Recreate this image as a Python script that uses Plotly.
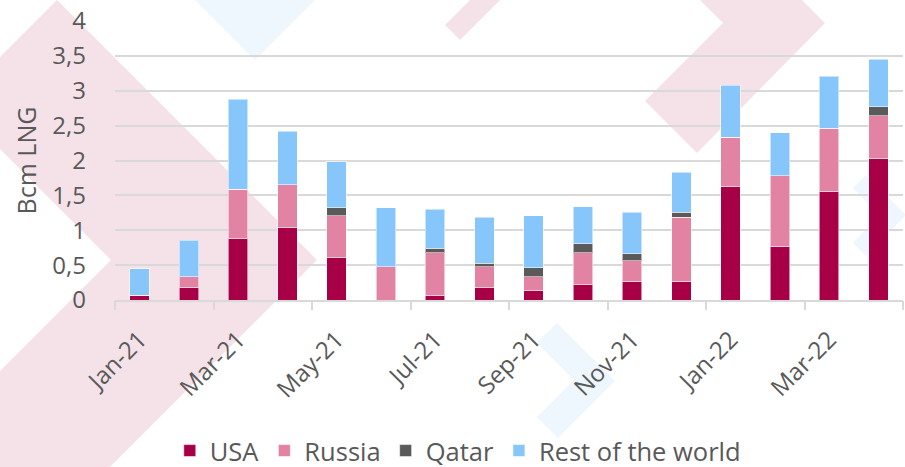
import plotly.graph_objects as go

# ---- data ----
months = ["Jan-21", "Feb-21", "Mar-21", "Apr-21", "May-21", "Jun-21", "Jul-21", "Aug-21",
          "Sep-21", "Oct-21", "Nov-21", "Dec-21", "Jan-22", "Feb-22", "Mar-22", "Apr-22"]
usa = [0.07, 0.18, 0.88, 1.04, 0.61, 0.00, 0.07, 0.18, 0.14, 0.22, 0.27, 0.27, 1.63, 0.77, 1.56, 2.03]
russia = [0.00, 0.15, 0.71, 0.61, 0.60, 0.48, 0.61, 0.30, 0.19, 0.46, 0.29, 0.92, 0.70, 1.01, 0.90, 0.61]
qatar = [0.00, 0.00, 0.00, 0.00, 0.11, 0.00, 0.06, 0.05, 0.13, 0.13, 0.10, 0.07, 0.00, 0.00, 0.00, 0.13]
rest = [0.38, 0.53, 1.29, 0.77, 0.66, 0.84, 0.56, 0.66, 0.75, 0.53, 0.60, 0.57, 0.75, 0.62, 0.75, 0.68]
tick_labels = months[::2]

series = [("USA", usa, "#A80046"), ("Russia", russia, "#E283A4"),
          ("Qatar", qatar, "#5A5A5A"), ("Rest of the world", rest, "#87C6FA")]

FONT = "Open Sans"
TXT = "#595959"
W, H = 905, 467
ML, MR, MT, MB = 115, 2, 21, 167
PW, PH = W - ML - MR, H - MT - MB

fig = go.Figure()
for name, vals, col in series:
    fig.add_trace(go.Bar(x=months, y=vals, name=name, marker_color=col,
                         marker_line=dict(width=1, color="rgba(255,255,255,0.55)")))

# empty helper trace so the boundary-tick axis (x2) gets drawn
fig.add_trace(go.Scatter(x=[], y=[], xaxis="x2", yaxis="y", showlegend=False,
                         hoverinfo="skip"))


# ---- decorative background shapes (page pixels -> paper coords) ----
def poly(pts):
    s = ""
    for i, (px, py) in enumerate(pts):
        x = (px - ML) / PW
        y = (H - MB - py) / PH
        s += ("M" if i == 0 else "L") + f"{x:.4f},{y:.4f} "
    return s + "Z"

PINK = "#F4E2E8"
BLUE = "#EEF6FE"
decor = [
    ([(-46, 103), (57, 0), (317, 260), (-110, 687), (-110, 481), (111, 260)], PINK),
    ([(185, -10), (255, 60), (325, -10)], BLUE),
    ([(445, 25), (460, 40), (525, -25), (510, -40)], PINK),
    ([(658, -42), (760, -42), (825, 23), (697, 153), (645, 101), (723, 23)], PINK),
    ([(537, 343), (557, 323), (615, 381), (558, 438), (537, 417), (574, 380)], BLUE),
    ([(853, 188), (866, 175), (906, 215), (866, 256), (853, 243), (880, 215)], BLUE),
]
shapes = [dict(type="path", xref="paper", yref="paper", path=poly(p), fillcolor=c,
               line=dict(width=0), layer="below") for p, c in decor]

# tick marks between every pair of months (category boundaries)
n = len(months)
boundary_ticks = [k - 0.5 for k in range(0, n + 1, 2)]

fig.update_layout(
    width=W, height=H,
    barmode="stack", bargap=0.6,
    separators=", ",
    paper_bgcolor="white", plot_bgcolor="rgba(0,0,0,0)",
    margin=dict(l=ML, r=MR, t=MT, b=MB, autoexpand=False),
    font=dict(family=FONT, color=TXT, size=24),
    shapes=shapes,
    showlegend=True,
    legend=dict(orientation="h", x=0.435, xanchor="center", y=-(451 - (H - MB)) / PH,
                yanchor="middle", font=dict(size=25.5, color=TXT),
                bgcolor="rgba(0,0,0,0)", traceorder="normal"),
    xaxis=dict(type="category", categoryorder="array", categoryarray=months,
               tickmode="array", tickvals=tick_labels, ticktext=tick_labels,
               tickangle=-45, tickfont=dict(size=24, color=TXT),
               showline=True, linecolor="#D9D9D9", linewidth=2,
               ticks="", showgrid=False, ticklabelstandoff=14,
               automargin=False),
    xaxis2=dict(overlaying="x", anchor="y", side="bottom", range=[-0.5, n - 0.5],
                type="linear",
                tickmode="array", tickvals=boundary_ticks, showticklabels=False,
                ticks="outside", ticklen=9, tickcolor="#D9D9D9", tickwidth=2,
                showline=False, showgrid=False, zeroline=False, automargin=False),
    yaxis=dict(range=[0, 4], dtick=0.5, tick0=0, showgrid=True, gridcolor="#D9D9D9",
               gridwidth=2, zeroline=False, showline=False, ticks="",
               tickfont=dict(size=24, color=TXT), ticklabelstandoff=28,
               title=dict(text="Bcm LNG", font=dict(size=25, color=TXT), standoff=8),
               automargin=False),
)

fig.write_html("out.html", config={"displayModeBar": False},
               post_script="document.body.style.margin='0px';document.body.style.overflow='hidden';")
